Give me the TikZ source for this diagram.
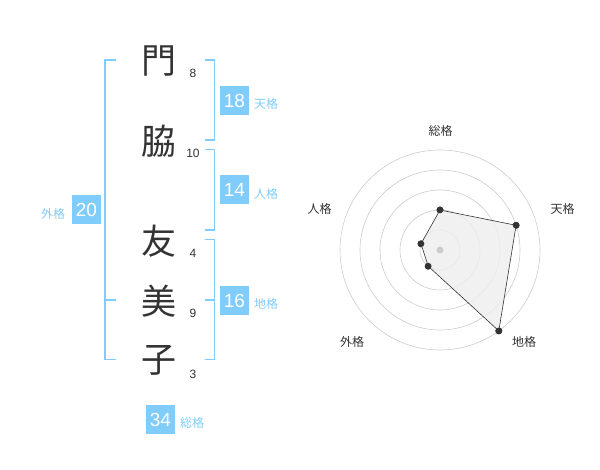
\documentclass[tikz,border=0pt]{standalone}
\usepackage{fontspec}
\setmainfont{Liberation Sans}
\newfontfamily\jp{Noto Sans CJK JP}
\definecolor{sky}{RGB}{128,204,250}
\definecolor{ink}{RGB}{51,51,51}
\definecolor{ring}{RGB}{204,204,204}
\definecolor{poly}{RGB}{238,238,238}
\begin{document}
\begin{tikzpicture}[x=1pt,y=-1pt,
  kanji/.style={text=ink,font=\jp\fontsize{35}{35}\selectfont,inner sep=0pt},
  stroke/.style={text=ink,font=\fontsize{12}{12}\selectfont,inner sep=0pt},
  numbox/.style={fill=sky,text=white,font=\fontsize{19}{19}\selectfont,minimum width=29pt,minimum height=29pt,inner sep=0pt},
  boxlabel/.style={text=sky,font=\jp\fontsize{12}{12}\selectfont,inner sep=0pt},
  bracket/.style={draw=sky,line width=1.6pt},
  ringline/.style={draw=ring,line width=0.6pt},
  axlabel/.style={text=ink,font=\jp\fontsize{12}{12}\selectfont,inner sep=0pt},
  dot/.style={circle,fill=ink,inner sep=0pt,minimum size=7pt}
]
\useasboundingbox (0,0) rectangle (600,470);
% characters
\node[kanji] (c1) at (159,61) {門};
\node[kanji] (c2) at (159,141) {脇};
\node[kanji] (c3) at (159,241) {友};
\node[kanji] (c4) at (159,301) {美};
\node[kanji] (c5) at (159,360) {子};
\node[stroke] (n1) at (193,73) {8};
\node[stroke] (n2) at (193,153) {10};
\node[stroke] (n3) at (193,253) {4};
\node[stroke] (n4) at (193,313) {9};
\node[stroke] (n5) at (193,374) {3};
% brackets
\draw[bracket] (116,60) -- (105,60) -- (105,359.5) -- (116,359.5);
\draw[bracket] (105,300) -- (116,300);
\draw[bracket] (205,60) -- (214.5,60) -- (214.5,140) -- (205,140);
\draw[bracket] (205,149.5) -- (214.5,149.5) -- (214.5,230) -- (205,230);
\draw[bracket] (205,239.5) -- (214.5,239.5) -- (214.5,359.5) -- (205,359.5);
\draw[bracket] (205,300) -- (214.5,300);
% boxes
\node[numbox] (b1) at (234.5,100.5) {18};
\node[boxlabel] (l1) at (266,104) {天格};
\node[numbox] (b2) at (234.5,190) {14};
\node[boxlabel] (l2) at (266,194) {人格};
\node[numbox] (b3) at (234.5,300.5) {16};
\node[boxlabel] (l3) at (266,304) {地格};
\node[numbox] (b4) at (86.5,210) {20};
\node[boxlabel] (l4) at (53,213.5) {外格};
\node[numbox] (b5) at (160.5,419.5) {34};
\node[boxlabel] (l5) at (192,423) {総格};
% radar
\coordinate (o) at (440,250);
\foreach \r in {20,40,60,80,100} \draw[ringline] (o) circle[radius=\r];
\node[dot] (p1) at (440,210) {};
\node[dot] (p2) at (516.1,225.3) {};
\node[dot] (p3) at (498.8,330.9) {};
\node[dot] (p4) at (428.2,266.2) {};
\node[dot] (p5) at (421.0,243.8) {};
\fill[poly,opacity=0.85] (p1.center) -- (p2.center) -- (p3.center) -- (p4.center) -- (p5.center) -- cycle;
\draw[ink,line width=0.6pt] (p1.center) -- (p2.center) -- (p3.center) -- (p4.center) -- (p5.center) -- cycle;
\foreach \p in {p1,p2,p3,p4,p5} \fill[ink] (\p) circle[radius=3.3];
\node[circle,fill=ring,inner sep=0pt,minimum size=7pt] (oc) at (o) {};
\node[axlabel] (a1) at (440.5,130.5) {総格};
\node[axlabel] (a2) at (562.5,209) {天格};
\node[axlabel] (a3) at (524,342) {地格};
\node[axlabel] (a4) at (352,342) {外格};
\node[axlabel] (a5) at (319.5,209) {人格};
\end{tikzpicture}
\end{document}
